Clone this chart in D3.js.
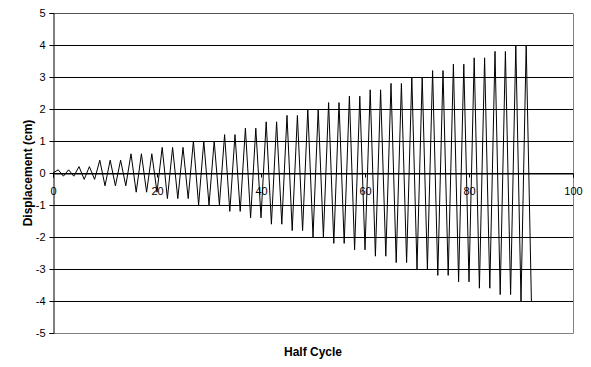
<!DOCTYPE html>
<html>
<head>
<meta charset="utf-8">
<script src="https://cdn.jsdelivr.net/npm/d3@7"></script>
<style>
  body { margin: 0; background: #fff; }
  svg { display: block; font-family: "Liberation Sans", Arial, sans-serif; }
</style>
</head>
<body>
<div id="chart"></div>
<script>
// displacement at each half cycle, starting at half cycle 0
const displacement = [
  0,
  0.1, -0.1, 0.1, -0.1,
  0.2, -0.2, 0.2, -0.2,
  0.4, -0.4, 0.4, -0.4, 0.4, -0.4,
  0.6, -0.6, 0.6, -0.6, 0.6, -0.6,
  0.8, -0.8, 0.8, -0.8, 0.8, -0.8,
  1.0, -1.0, 1.0, -1.0, 1.0, -1.0,
  1.2, -1.2, 1.2, -1.2,
  1.4, -1.4, 1.4, -1.4,
  1.6, -1.6, 1.6, -1.6,
  1.8, -1.8, 1.8, -1.8,
  2.0, -2.0, 2.0, -2.0,
  2.2, -2.2, 2.2, -2.2,
  2.4, -2.4, 2.4, -2.4,
  2.6, -2.6, 2.6, -2.6,
  2.8, -2.8, 2.8, -2.8,
  3.0, -3.0, 3.0, -3.0,
  3.2, -3.2, 3.2, -3.2,
  3.4, -3.4, 3.4, -3.4,
  3.6, -3.6, 3.6, -3.6,
  3.8, -3.8, 3.8, -3.8,
  4.0, -4.0, 4.0, -4.0
];
const xTicks = [0, 20, 40, 60, 80, 100];
const yTicks = [-5, -4, -3, -2, -1, 0, 1, 2, 3, 4, 5];

const width = 591, height = 367;
const margin = {top: 13, right: 18, bottom: 34, left: 53};

const svg = d3.select('#chart').append('svg')
  .attr('width', width)
  .attr('height', height);

const x = d3.scaleLinear().domain([0, 100]).range([margin.left, width - margin.right]);
const y = d3.scaleLinear().domain([-5, 5]).range([height - margin.bottom, margin.top]);

// gridlines
svg.append('g')
  .selectAll('line')
  .data(yTicks.filter(d => d !== -5))
  .enter().append('line')
  .attr('x1', x(0)).attr('x2', x(100))
  .attr('y1', d => Math.round(y(d)) + 0.5)
  .attr('y2', d => Math.round(y(d)) + 0.5)
  .attr('stroke', d => d === 5 ? '#555' : '#000')
  .attr('stroke-width', 1);

// plot border, right and bottom
svg.append('path')
  .attr('d', `M${Math.round(x(100)) + 0.5},${Math.round(y(5)) + 0.5}V${Math.round(y(-5)) + 0.5}H${x(0)}`)
  .attr('fill', 'none')
  .attr('stroke', '#808080');

// data line
const line = d3.line()
  .x((d, i) => x(i))
  .y(d => y(d));

svg.append('path')
  .datum(displacement)
  .attr('d', line)
  .attr('fill', 'none')
  .attr('stroke', '#000')
  .attr('stroke-width', 1);

// y axis
const yAxis = svg.append('g')
  .attr('transform', `translate(${Math.round(x(0)) + 0.5},0)`)
  .call(d3.axisLeft(y).tickValues(yTicks).tickSize(4).tickPadding(4).tickFormat(d => String(d)));
yAxis.select('.domain').attr('stroke', '#000');
yAxis.selectAll('line').attr('stroke', '#000');
yAxis.selectAll('text').style('font-size', '11px').attr('fill', '#000');

// x axis through zero
const xAxis = svg.append('g')
  .attr('transform', `translate(0,${Math.round(y(0)) + 0.5})`)
  .call(d3.axisBottom(x).tickValues(xTicks).tickSize(4).tickPadding(10).tickFormat(d => String(d)));
xAxis.select('.domain').attr('stroke', '#000');
xAxis.selectAll('line').attr('stroke', '#000');
xAxis.selectAll('text').style('font-size', '11px').attr('fill', '#000');

// titles
svg.append('text')
  .attr('transform', `translate(32,${y(0)}) rotate(-90)`)
  .attr('text-anchor', 'middle')
  .style('font-size', '12px')
  .style('font-weight', 'bold')
  .text('Displacement (cm)');

svg.append('text')
  .attr('x', (x(0) + x(100)) / 2)
  .attr('y', 356)
  .attr('text-anchor', 'middle')
  .style('font-size', '12px')
  .style('font-weight', 'bold')
  .text('Half Cycle');
</script>
</body>
</html>
